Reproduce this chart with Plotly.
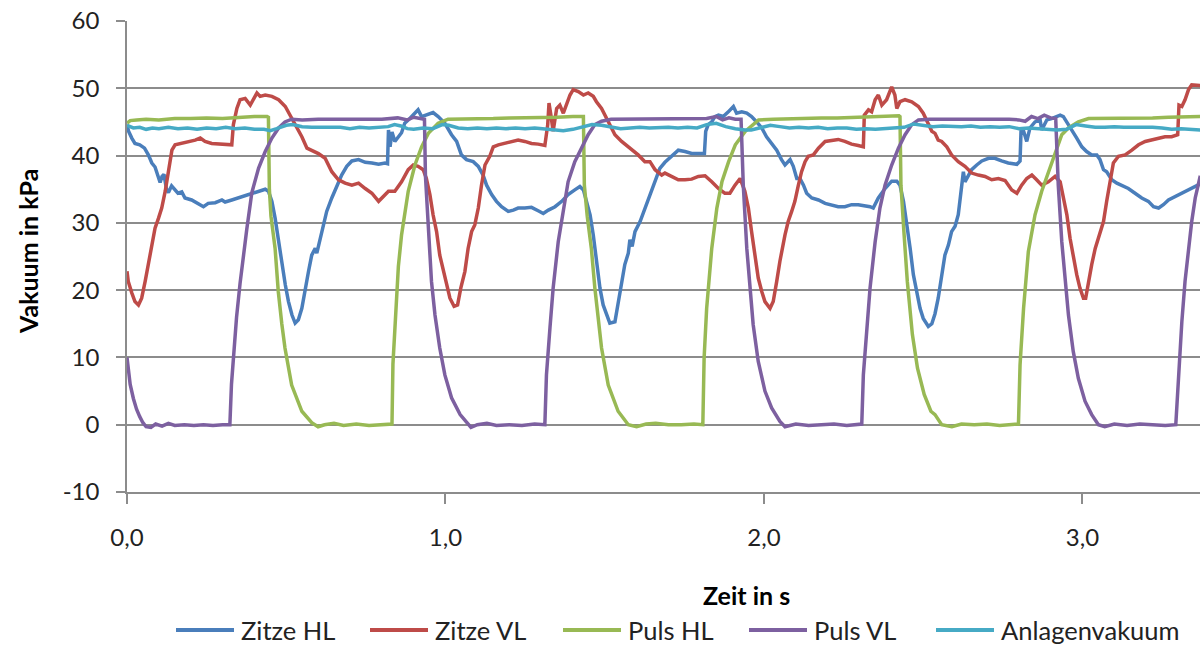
import plotly.graph_objects as go

# Vacuum traces at the teats, the pulsators and the plant line (kPa over time in s)

t_zitze_hl = [0.000, 0.005, 0.015, 0.025, 0.040, 0.055, 0.067, 0.078, 0.088, 0.098, 0.104, 0.110, 0.116,
              0.124, 0.130, 0.140, 0.150, 0.160, 0.172, 0.182, 0.203, 0.224, 0.240, 0.255, 0.277, 0.298,
              0.308, 0.329, 0.350, 0.371, 0.392, 0.413, 0.434, 0.444, 0.455, 0.465, 0.476, 0.486, 0.497,
              0.507, 0.518, 0.528, 0.538, 0.549, 0.559, 0.570, 0.580, 0.591, 0.596, 0.606, 0.617, 0.627,
              0.643, 0.659, 0.674, 0.690, 0.706, 0.727, 0.748, 0.769, 0.790, 0.810, 0.818, 0.821, 0.826,
              0.832, 0.841, 0.862, 0.872, 0.888, 0.904, 0.914, 0.925, 0.946, 0.961, 0.977, 0.998, 1.019,
              1.035, 1.050, 1.066, 1.087, 1.103, 1.118, 1.129, 1.145, 1.160, 1.176, 1.197, 1.213, 1.228,
              1.249, 1.270, 1.291, 1.307, 1.323, 1.344, 1.365, 1.385, 1.406, 1.422, 1.433, 1.443, 1.454,
              1.464, 1.474, 1.485, 1.495, 1.506, 1.516, 1.532, 1.543, 1.553, 1.563, 1.574, 1.579, 1.586,
              1.595, 1.611, 1.626, 1.642, 1.658, 1.673, 1.689, 1.710, 1.731, 1.752, 1.773, 1.794, 1.813,
              1.817, 1.825, 1.836, 1.846, 1.857, 1.872, 1.888, 1.904, 1.914, 1.930, 1.946, 1.961, 1.977,
              1.993, 2.008, 2.024, 2.040, 2.055, 2.066, 2.082, 2.092, 2.103, 2.113, 2.124, 2.134, 2.150,
              2.171, 2.192, 2.213, 2.233, 2.254, 2.275, 2.296, 2.317, 2.333, 2.343, 2.359, 2.380, 2.401,
              2.417, 2.427, 2.438, 2.448, 2.459, 2.469, 2.480, 2.490, 2.500, 2.516, 2.527, 2.537, 2.547,
              2.558, 2.568, 2.579, 2.589, 2.600, 2.610, 2.621, 2.626, 2.631, 2.642, 2.652, 2.668, 2.684,
              2.705, 2.725, 2.746, 2.767, 2.794, 2.804, 2.807, 2.814, 2.825, 2.835, 2.851, 2.867, 2.872,
              2.888, 2.903, 2.919, 2.930, 2.940, 2.951, 2.966, 2.982, 2.998, 3.013, 3.029, 3.045, 3.055,
              3.066, 3.076, 3.092, 3.108, 3.123, 3.144, 3.165, 3.186, 3.207, 3.223, 3.239, 3.254, 3.270,
              3.291, 3.312, 3.333, 3.359, 3.370]
zitze_hl = [44.6, 43.6, 42.6, 41.8, 41.6, 41.1, 40.1, 38.9, 38.3, 37.0, 36.0, 36.9, 37.2,
            35.0, 34.5, 35.5, 34.9, 34.4, 34.6, 33.7, 33.4, 32.9, 32.4, 32.9, 33.0, 33.4,
            33.1, 33.4, 33.7, 34.1, 34.4, 34.7, 35.0, 34.7, 33.2, 30.7, 27.2, 23.8, 20.8,
            18.3, 16.3, 15.1, 15.6, 17.3, 20.3, 22.8, 25.2, 26.2, 25.5, 27.7, 29.7, 31.7,
            33.7, 35.6, 37.1, 38.4, 39.2, 39.4, 39.0, 38.9, 38.7, 38.9, 38.8, 43.8, 41.3,
            43.5, 42.1, 43.4, 44.8, 45.5, 46.3, 46.8, 45.8, 46.1, 46.4, 45.8, 44.8, 43.1,
            42.1, 40.1, 39.4, 39.1, 38.4, 37.1, 35.6, 34.2, 33.2, 32.4, 31.7, 31.9, 32.2,
            32.2, 32.3, 31.8, 31.4, 31.9, 32.4, 33.2, 34.2, 34.9, 35.4, 34.9, 33.2, 31.2,
            28.2, 24.3, 20.3, 17.8, 16.3, 15.1, 15.3, 18.3, 21.3, 23.8, 25.5, 27.5, 26.5,
            28.7, 30.2, 32.2, 34.2, 36.1, 38.1, 39.0, 39.9, 40.8, 40.6, 40.3, 40.3, 40.3,
            43.6, 44.6, 45.0, 45.8, 46.0, 45.8, 46.5, 47.3, 46.3, 46.5, 46.3, 45.8, 45.0,
            44.1, 42.8, 41.8, 40.8, 39.4, 38.6, 39.4, 38.4, 36.6, 36.6, 35.6, 34.4, 33.7,
            33.4, 32.9, 32.7, 32.4, 32.4, 32.7, 32.7, 32.6, 32.4, 32.2, 33.7, 35.1, 36.2,
            36.2, 35.6, 33.2, 30.2, 26.2, 22.3, 19.3, 17.3, 15.8, 14.6, 15.0, 16.5, 18.8,
            22.3, 25.2, 26.7, 28.7, 29.5, 31.2, 35.6, 37.6, 36.1, 37.1, 37.9, 38.6, 39.2,
            39.6, 39.6, 39.2, 38.9, 38.7, 39.2, 43.6, 43.8, 42.1, 44.1, 45.0, 45.3, 43.8,
            45.3, 45.5, 45.8, 46.0, 45.8, 45.0, 43.8, 42.6, 41.3, 40.6, 40.1, 40.1, 39.4,
            37.9, 37.6, 36.4, 35.9, 35.6, 35.1, 34.4, 33.7, 33.2, 32.4, 32.2, 32.7, 33.4,
            33.9, 34.4, 34.9, 35.6, 35.8]

t_zitze_vl = [0.000, 0.004, 0.015, 0.025, 0.036, 0.046, 0.057, 0.067, 0.078, 0.088, 0.099, 0.109, 0.120,
              0.130, 0.141, 0.151, 0.172, 0.193, 0.214, 0.230, 0.245, 0.266, 0.287, 0.308, 0.329, 0.334,
              0.345, 0.355, 0.371, 0.387, 0.397, 0.408, 0.418, 0.434, 0.455, 0.476, 0.497, 0.518, 0.533,
              0.549, 0.565, 0.580, 0.601, 0.622, 0.643, 0.664, 0.685, 0.706, 0.727, 0.748, 0.769, 0.790,
              0.805, 0.821, 0.841, 0.862, 0.883, 0.899, 0.914, 0.930, 0.940, 0.951, 0.961, 0.972, 0.982,
              0.993, 1.003, 1.014, 1.027, 1.038, 1.048, 1.061, 1.071, 1.082, 1.092, 1.103, 1.113, 1.124,
              1.139, 1.150, 1.166, 1.187, 1.207, 1.228, 1.249, 1.270, 1.291, 1.312, 1.321, 1.325, 1.331,
              1.338, 1.349, 1.359, 1.370, 1.380, 1.391, 1.401, 1.417, 1.433, 1.448, 1.464, 1.474, 1.490,
              1.501, 1.516, 1.532, 1.553, 1.574, 1.584, 1.605, 1.626, 1.642, 1.658, 1.679, 1.689, 1.710,
              1.731, 1.752, 1.773, 1.794, 1.815, 1.836, 1.857, 1.877, 1.893, 1.909, 1.925, 1.940, 1.951,
              1.961, 1.972, 1.982, 1.993, 2.003, 2.019, 2.029, 2.040, 2.050, 2.066, 2.076, 2.087, 2.097,
              2.108, 2.118, 2.129, 2.139, 2.155, 2.171, 2.192, 2.213, 2.233, 2.254, 2.275, 2.296, 2.312,
              2.315, 2.328, 2.338, 2.349, 2.359, 2.370, 2.385, 2.401, 2.411, 2.417, 2.427, 2.443, 2.464,
              2.485, 2.500, 2.516, 2.527, 2.537, 2.547, 2.558, 2.574, 2.589, 2.610, 2.631, 2.652, 2.673,
              2.694, 2.715, 2.736, 2.757, 2.778, 2.794, 2.809, 2.825, 2.841, 2.856, 2.872, 2.893, 2.914,
              2.930, 2.940, 2.951, 2.961, 2.972, 2.982, 2.992, 3.003, 3.010, 3.019, 3.029, 3.040, 3.055,
              3.066, 3.076, 3.087, 3.097, 3.113, 3.134, 3.155, 3.176, 3.197, 3.218, 3.239, 3.259, 3.280,
              3.299, 3.303, 3.312, 3.322, 3.333, 3.343, 3.359, 3.370]
zitze_vl = [22.8, 21.3, 19.6, 18.3, 17.8, 18.8, 21.3, 23.8, 27.2, 29.2, 30.7, 32.2, 34.7,
            37.6, 40.8, 41.6, 41.8, 42.1, 42.3, 42.6, 42.1, 41.8, 41.7, 41.6, 41.6, 44.6,
            47.0, 48.3, 48.5, 47.5, 48.5, 49.3, 48.8, 49.0, 48.8, 48.3, 47.3, 45.5, 44.1,
            42.8, 41.1, 40.8, 40.3, 39.6, 37.6, 36.4, 35.9, 35.6, 35.9, 35.1, 34.4, 33.2,
            33.9, 34.7, 34.7, 36.1, 37.9, 38.6, 38.4, 37.9, 36.6, 34.2, 31.2, 28.7, 25.2,
            22.8, 20.8, 18.8, 17.6, 17.8, 20.3, 22.8, 26.2, 28.7, 29.7, 32.2, 35.6, 38.6,
            39.9, 41.3, 41.6, 41.8, 42.1, 42.3, 42.1, 41.8, 41.7, 41.5, 44.6, 47.8, 46.0,
            43.6, 47.0, 47.5, 46.3, 47.5, 49.0, 49.8, 49.5, 49.0, 49.3, 48.8, 48.0, 47.0,
            46.0, 44.6, 43.1, 42.1, 41.3, 40.8, 40.1, 39.1, 39.1, 37.9, 37.1, 37.4, 36.9,
            36.4, 36.4, 36.5, 36.9, 37.0, 36.1, 35.1, 34.4, 34.4, 35.6, 36.6, 34.7, 32.2,
            28.7, 24.8, 21.8, 19.8, 18.3, 17.3, 18.3, 21.3, 24.3, 28.2, 30.2, 31.7, 33.2,
            35.6, 37.6, 39.1, 39.9, 40.1, 41.1, 42.1, 42.3, 42.4, 42.1, 41.7, 41.5, 41.3,
            46.0, 46.8, 46.5, 48.3, 49.0, 47.5, 48.3, 50.2, 49.0, 47.0, 48.0, 48.3, 48.0,
            47.3, 46.3, 44.8, 43.6, 43.3, 42.3, 42.1, 41.3, 40.1, 39.1, 38.4, 37.4, 37.1,
            36.9, 36.4, 36.6, 36.3, 34.9, 34.4, 35.6, 36.6, 37.1, 36.4, 35.6, 36.1, 36.9,
            36.1, 33.9, 31.2, 27.7, 24.8, 22.3, 20.3, 18.8, 18.8, 21.3, 23.8, 26.2, 28.7,
            30.2, 33.2, 36.1, 38.9, 39.9, 40.1, 40.8, 41.6, 42.1, 42.3, 42.6, 42.8, 42.8,
            43.1, 47.5, 47.3, 48.3, 49.8, 50.5, 50.5, 50.4]

t_puls_hl = [0.000, 0.010, 0.030, 0.060, 0.100, 0.150, 0.200, 0.250, 0.300, 0.350, 0.400, 0.440, 0.444,
             0.447, 0.452, 0.465, 0.475, 0.486, 0.496, 0.517, 0.549, 0.580, 0.600, 0.620, 0.650, 0.680,
             0.720, 0.760, 0.800, 0.832, 0.835, 0.840, 0.845, 0.852, 0.862, 0.872, 0.883, 0.904, 0.925,
             0.946, 0.977, 1.008, 1.050, 1.100, 1.150, 1.200, 1.250, 1.300, 1.350, 1.400, 1.430, 1.433,
             1.436, 1.445, 1.458, 1.469, 1.490, 1.511, 1.542, 1.574, 1.600, 1.630, 1.660, 1.700, 1.740,
             1.780, 1.808, 1.812, 1.820, 1.836, 1.852, 1.868, 1.889, 1.910, 1.941, 1.983, 2.030, 2.080,
             2.130, 2.180, 2.230, 2.280, 2.330, 2.380, 2.424, 2.427, 2.430, 2.440, 2.450, 2.466, 2.482,
             2.503, 2.524, 2.537, 2.558, 2.590, 2.620, 2.660, 2.700, 2.740, 2.780, 2.799, 2.804, 2.815,
             2.830, 2.851, 2.872, 2.893, 2.914, 2.935, 2.956, 2.987, 3.019, 3.070, 3.120, 3.170, 3.220,
             3.270, 3.320, 3.370]
puls_hl = [44.8, 45.2, 45.3, 45.4, 45.3, 45.5, 45.5, 45.6, 45.5, 45.7, 45.8, 45.8, 45.7,
           35.0, 31.0, 26.2, 19.8, 15.0, 11.4, 5.9, 2.0, 0.3, -0.3, 0.0, 0.2, -0.1,
           0.1, -0.1, 0.0, 0.1, 9.0, 14.0, 19.0, 23.5, 28.2, 31.5, 34.7, 38.6, 41.3,
           43.3, 44.8, 45.4, 45.4, 45.5, 45.5, 45.6, 45.6, 45.7, 45.7, 45.8, 45.9, 45.8,
           35.6, 31.0, 26.2, 20.3, 11.4, 5.9, 2.0, 0.0, -0.3, 0.1, 0.2, 0.0, 0.0,
           0.1, 0.0, 9.9, 17.3, 26.2, 32.2, 36.1, 39.1, 41.6, 43.6, 45.3, 45.4, 45.5,
           45.5, 45.6, 45.6, 45.7, 45.7, 45.8, 45.9, 45.8, 35.6, 28.2, 21.3, 13.4, 8.4,
           4.5, 2.0, 1.5, 0.0, -0.3, 0.1, 0.0, 0.1, -0.1, 0.0, 0.1, 8.9, 17.3,
           25.7, 31.2, 34.7, 37.6, 40.6, 43.1, 44.1, 45.0, 45.5, 45.5, 45.5, 45.6, 45.6,
           45.7, 45.7, 45.8]

t_puls_vl = [0.000, 0.010, 0.020, 0.030, 0.040, 0.050, 0.060, 0.075, 0.090, 0.110, 0.130, 0.150, 0.180,
             0.210, 0.240, 0.270, 0.300, 0.323, 0.328, 0.334, 0.344, 0.355, 0.365, 0.376, 0.392, 0.413,
             0.434, 0.455, 0.476, 0.496, 0.517, 0.550, 0.600, 0.650, 0.700, 0.750, 0.800, 0.850, 0.880,
             0.900, 0.920, 0.934, 0.937, 0.946, 0.956, 0.967, 0.982, 0.998, 1.019, 1.046, 1.072, 1.080,
             1.100, 1.130, 1.160, 1.200, 1.240, 1.280, 1.312, 1.317, 1.328, 1.338, 1.354, 1.370, 1.385,
             1.406, 1.427, 1.448, 1.469, 1.490, 1.520, 1.570, 1.620, 1.670, 1.720, 1.770, 1.820, 1.850,
             1.870, 1.890, 1.910, 1.928, 1.935, 1.946, 1.956, 1.966, 1.982, 2.003, 2.024, 2.050, 2.066,
             2.100, 2.140, 2.180, 2.220, 2.260, 2.307, 2.312, 2.323, 2.333, 2.349, 2.364, 2.380, 2.401,
             2.422, 2.443, 2.464, 2.485, 2.520, 2.570, 2.620, 2.670, 2.720, 2.770, 2.800, 2.820, 2.840,
             2.860, 2.880, 2.900, 2.916, 2.924, 2.935, 2.945, 2.956, 2.971, 2.987, 3.008, 3.029, 3.050,
             3.070, 3.100, 3.140, 3.180, 3.220, 3.260, 3.293, 3.301, 3.312, 3.322, 3.333, 3.343, 3.354,
             3.370]
puls_vl = [10.0, 6.0, 3.9, 2.3, 1.2, 0.3, -0.3, -0.4, 0.1, -0.2, 0.2, -0.1, 0.0,
           -0.1, 0.0, -0.1, 0.0, 0.0, 6.0, 10.0, 16.0, 21.0, 25.0, 29.0, 34.5, 38.1,
           40.6, 42.6, 44.1, 45.0, 45.4, 45.3, 45.4, 45.4, 45.5, 45.5, 45.4, 45.6, 45.3,
           45.7, 45.5, 45.4, 37.0, 29.7, 21.3, 16.3, 11.4, 7.4, 4.0, 1.5, 0.0, -0.4,
           0.0, 0.2, -0.1, 0.0, -0.1, 0.1, 0.0, 7.4, 14.4, 20.3, 27.2, 32.2, 36.1,
           39.1, 41.1, 43.1, 44.6, 45.1, 45.4, 45.4, 45.5, 45.4, 45.5, 45.5, 45.5, 45.8,
           45.3, 45.6, 45.4, 45.4, 35.6, 26.2, 20.3, 14.9, 9.4, 5.0, 2.5, 0.5, -0.3,
           0.1, -0.1, 0.0, 0.1, -0.1, 0.1, 7.4, 14.4, 20.3, 27.2, 32.2, 35.6, 38.6,
           41.1, 43.1, 44.6, 45.3, 45.4, 45.4, 45.5, 45.5, 45.5, 45.4, 45.3, 45.1, 45.8,
           45.5, 46.0, 45.6, 45.5, 35.6, 27.2, 21.3, 16.3, 10.9, 6.9, 3.5, 1.5, 0.0,
           -0.3, 0.1, -0.1, 0.1, 0.0, -0.1, 0.0, 7.4, 15.3, 21.3, 26.2, 30.2, 33.7,
           37.0]

t_anlage = [0.00, 0.02, 0.04, 0.06, 0.08, 0.10, 0.13, 0.16, 0.19, 0.22, 0.25, 0.28, 0.31, 0.34, 0.37,
            0.40, 0.43, 0.45, 0.47, 0.50, 0.52, 0.55, 0.58, 0.61, 0.64, 0.67, 0.70, 0.73, 0.76, 0.79,
            0.82, 0.84, 0.86, 0.88, 0.90, 0.93, 0.96, 0.99, 1.01, 1.04, 1.07, 1.10, 1.13, 1.16, 1.19,
            1.22, 1.25, 1.28, 1.31, 1.34, 1.37, 1.40, 1.43, 1.46, 1.49, 1.52, 1.55, 1.58, 1.61, 1.64,
            1.67, 1.70, 1.73, 1.76, 1.79, 1.82, 1.85, 1.88, 1.91, 1.94, 1.96, 1.99, 2.02, 2.05, 2.08,
            2.11, 2.14, 2.17, 2.20, 2.23, 2.26, 2.29, 2.32, 2.35, 2.38, 2.41, 2.44, 2.47, 2.50, 2.53,
            2.56, 2.59, 2.62, 2.65, 2.68, 2.71, 2.74, 2.77, 2.80, 2.83, 2.86, 2.89, 2.92, 2.95, 2.98,
            3.01, 3.04, 3.07, 3.10, 3.13, 3.16, 3.19, 3.22, 3.25, 3.28, 3.31, 3.34, 3.37]
anlagenvakuum = [44.5, 44.1, 44.2, 43.9, 44.1, 44.0, 44.2, 44.0, 44.1, 43.9, 44.1, 44.0, 44.2, 44.0, 44.1,
                 43.9, 43.9, 43.7, 44.0, 44.5, 44.6, 44.3, 44.2, 44.2, 44.1, 44.2, 44.0, 44.2, 44.1, 44.2,
                 44.3, 44.6, 44.4, 44.0, 43.9, 44.1, 44.0, 44.6, 44.5, 44.1, 44.0, 44.1, 44.0, 44.1, 44.0,
                 44.1, 44.0, 44.1, 44.0, 43.8, 43.7, 43.9, 44.2, 44.6, 44.5, 44.2, 44.0, 44.1, 44.2, 44.1,
                 44.2, 44.2, 44.1, 44.2, 44.1, 44.6, 44.8, 44.3, 44.0, 43.8, 43.8, 44.2, 44.5, 44.3, 44.1,
                 44.2, 44.1, 44.2, 44.0, 44.1, 44.1, 43.9, 44.0, 43.9, 44.0, 44.1, 44.2, 44.7, 44.5, 44.3,
                 44.4, 44.3, 44.3, 44.4, 44.2, 44.3, 44.2, 44.3, 44.0, 44.1, 44.0, 43.8, 43.8, 43.9, 44.6,
                 44.4, 44.2, 44.2, 44.3, 44.2, 44.2, 44.3, 44.2, 44.1, 43.9, 44.0, 43.9, 43.8]

series_names = ["Zitze HL", "Zitze VL", "Puls HL", "Puls VL", "Anlagenvakuum"]
series_colors = ["#4A7EBB", "#BE4B48", "#98B954", "#7D60A0", "#46AAC5"]
series_t = [t_zitze_hl, t_zitze_vl, t_puls_hl, t_puls_vl, t_anlage]
series_y = [zitze_hl, zitze_vl, puls_hl, puls_vl, anlagenvakuum]

x_ticks = [0, 1, 2, 3]
x_tick_text = ["0,0", "1,0", "2,0", "3,0"]
y_ticks = [-10, 0, 10, 20, 30, 40, 50, 60]
y_tick_text = ["-10", "0", "10", "20", "30", "40", "50", "60"]

FONT = "Lato, 'Open Sans', sans-serif"
TEXT = "#222222"
GRID = "#8C8C8C"

W, H = 1200, 646
L, R, T, B = 127, 0, 21, 154
plot_w = W - L - R
plot_h = H - T - B


def px_x(p):
    return (p - L) / plot_w


def px_y(p):
    return (H - B - p) / plot_h


fig = go.Figure()
for name, color, t, y in zip(series_names, series_colors, series_t, series_y):
    fig.add_trace(go.Scatter(x=t, y=y, mode="lines", name=name,
                             line=dict(color=color, width=3.5), showlegend=False))

fig.update_layout(
    width=W, height=H,
    margin=dict(l=L, r=R, t=T, b=B),
    paper_bgcolor="white", plot_bgcolor="white",
    font=dict(family=FONT, size=24, color=TEXT),
    xaxis=dict(range=[0, 3.369], tickvals=x_ticks, ticktext=x_tick_text,
               showgrid=False, zeroline=False, showline=True, linecolor=GRID, linewidth=1.5,
               ticks="outside", ticklen=10, tickcolor=GRID, tickwidth=1.5,
               ticklabelstandoff=13, tickfont=dict(size=24, color=TEXT)),
    yaxis=dict(range=[-10, 60], tickvals=y_ticks, ticktext=y_tick_text,
               showgrid=True, gridcolor=GRID, gridwidth=1.5, zeroline=False,
               showline=True, linecolor=GRID, linewidth=1.5,
               ticks="outside", ticklen=9, tickcolor=GRID, tickwidth=1.5,
               ticklabelstandoff=12, tickfont=dict(size=24, color=TEXT)),
)

# Axis titles
fig.add_annotation(text="<b>Zeit in s</b>", x=px_x(746), y=px_y(595), xref="paper", yref="paper",
                   showarrow=False, xanchor="center", yanchor="middle",
                   font=dict(family=FONT, size=25, color="#000000"))
fig.add_annotation(text="<b>Vakuum in kPa</b>", x=px_x(28), y=px_y(252), xref="paper", yref="paper",
                   showarrow=False, textangle=-90, xanchor="center", yanchor="middle",
                   font=dict(family=FONT, size=25, color="#000000"))

# Legend row below the axis title
legend_line_x = [176, 370, 563, 749, 936]
legend_y = 630
for name, color, lx in zip(series_names, series_colors, legend_line_x):
    fig.add_shape(type="line", xref="paper", yref="paper",
                  x0=px_x(lx), x1=px_x(lx + 58), y0=px_y(legend_y), y1=px_y(legend_y),
                  line=dict(color=color, width=4))
    fig.add_annotation(text=name, x=px_x(lx + 63), y=px_y(legend_y), xref="paper", yref="paper",
                       showarrow=False, xanchor="left", yanchor="middle",
                       font=dict(family=FONT, size=25.5, color=TEXT))

fig.write_html("out.html")
